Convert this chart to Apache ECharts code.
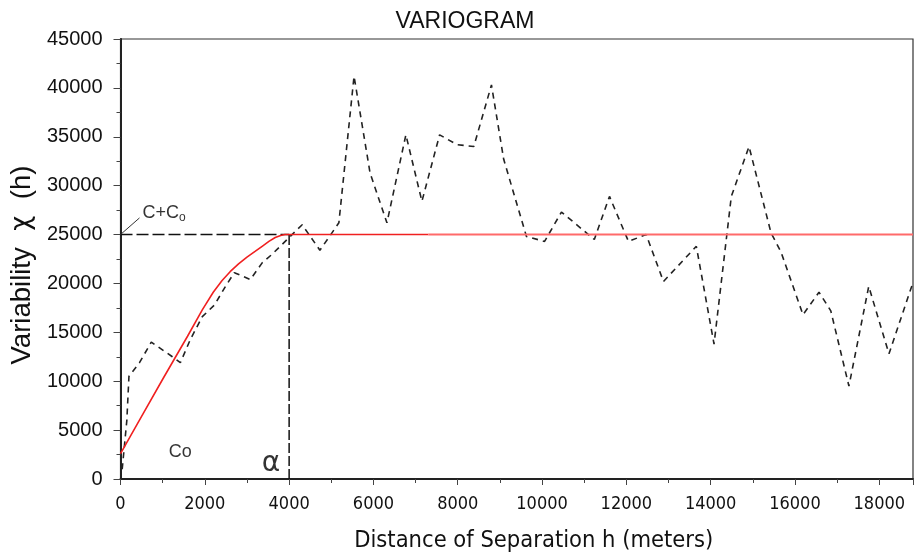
<!DOCTYPE html>
<html>
<head>
<meta charset="utf-8">
<title>Variogram</title>
<script src="https://cdn.jsdelivr.net/npm/echarts@6/dist/echarts.min.js"></script>
<style>
  html, body { margin: 0; padding: 0; background: #fff; }
  #chart { width: 916px; height: 558px; }
</style>
</head>
<body>
<div id="chart"></div>
<script>
// Variograma experimental (línea discontinua)
const varioH = [40, 150, 200, 450, 730, 1230, 1420, 1660, 1940, 2230, 2490, 2700, 3080, 3360, 3600, 4000,
  4310, 4730, 5020, 5180, 5540, 5920, 6320, 6770, 7150, 7570, 7980, 8380, 8800, 9090, 9630, 10060,
  10460, 11100, 11240, 11600, 12050, 12470, 12880, 13660, 14080, 14490, 14910, 15430, 15670, 16190,
  16570, 16850, 17280, 17750, 18230, 18800];
const varioGamma = [1000, 6000, 10500, 11900, 14000, 12500, 11900, 14300, 16600, 17800, 19700, 21100, 20400, 22100, 23000, 24700,
  26000, 23400, 25200, 26200, 41200, 31300, 26200, 35200, 28400, 35200, 34200, 34000, 40300, 32700, 24800, 24300,
  27300, 25000, 24500, 28900, 24300, 25000, 20200, 23800, 13800, 28900, 34000, 25200, 23200, 16800,
  19100, 17200, 9500, 19700, 12800, 20100];

// Modelo ajustado (línea roja)
const modelH = [0, 500, 1000, 1590, 1940, 2200, 2410, 2600, 2800, 3000, 3200, 3360, 3520, 3670, 3800, 3900, 7300];
const modelGamma = [2600, 6400, 10200, 14600, 17300, 19100, 20300, 21200, 22000, 22700, 23300, 23800, 24300, 24700, 24900, 25000, 25000];
const modelTailH = [7300, 18800];
const modelTailGamma = [25000, 25000];

// Meseta (C+Co) y alcance (α)
const sillH = [0, 4000];
const sillGamma = [25000, 25000];
const rangeH = [4000, 4000];
const rangeGamma = [0, 25000];
const leaderH = [0, 450];
const leaderGamma = [25000, 26700];

// Etiquetas de anotación
const notes = [
  { h: 400, gamma: 27200, text: '{a|C+C}{b|o}', pos: 'right' },
  { h: 1420, gamma: 2750, text: '{a|Co}', pos: 'inside' },
  { h: 3570, gamma: 1600, text: '{c|α}', pos: 'inside' }
];

const xTicks = { min: 0, max: 18800, interval: 2000 };
const yTicks = { min: 0, max: 45000, interval: 5000 };

const zip = (a, b) => a.map((v, i) => [v, b[i]]);

const noteRich = {
  a: { fontFamily: 'Liberation Sans', fontSize: 18, color: '#000' },
  b: { fontFamily: 'Liberation Sans', fontSize: 12, color: '#000', padding: [9, 0, 0, 0] },
  c: { fontFamily: 'DejaVu Sans', fontSize: 28, color: '#000' }
};

const chart = echarts.init(document.getElementById('chart'));

const option = {
  animation: false,
  backgroundColor: '#fff',
  title: {
    text: 'VARIOGRAM',
    left: 460,
    textAlign: 'center',
    top: 5,
    textStyle: { fontFamily: 'Liberation Sans', fontSize: 23, fontWeight: 'normal', color: '#111' }
  },
  grid: {
    left: 118, right: 3, top: 39, bottom: 78,
    show: true, borderColor: '#333', borderWidth: 1.2
  },
  xAxis: {
    type: 'value',
    min: xTicks.min, max: xTicks.max, interval: xTicks.interval,
    name: 'Distance of Separation h (meters)',
    nameLocation: 'middle',
    nameGap: 50,
    nameTextStyle: { fontFamily: 'DejaVu Sans Condensed', fontSize: 23.5, color: '#111', padding: [0, 0, 0, 34] },
    axisLine: { lineStyle: { color: '#222', width: 2 } },
    axisTick: { inside: false, length: 6, lineStyle: { color: '#444' } },
    minorTick: { show: true, splitNumber: 2, length: 4, lineStyle: { color: '#444' } },
    axisLabel: {
      showMaxLabel: false, margin: 16,
      formatter: v => String(v),
      fontFamily: 'DejaVu Sans Condensed', fontSize: 18, color: '#111'
    },
    splitLine: { show: false }
  },
  yAxis: {
    type: 'value',
    min: yTicks.min, max: yTicks.max, interval: yTicks.interval,
    name: '{a|Variability}{x|  χ  }{a|(h)}',
    nameLocation: 'middle',
    nameGap: 84,
    nameTextStyle: {
      padding: [0, 12, 0, 0],
      rich: {
        a: { fontFamily: 'Liberation Sans', fontSize: 27.5, color: '#111' },
        x: { fontFamily: 'DejaVu Sans', fontSize: 26, color: '#111' }
      }
    },
    axisLine: { show: true, lineStyle: { color: '#222', width: 2 } },
    axisTick: { show: true, length: 7, lineStyle: { color: '#444' } },
    minorTick: { show: true, splitNumber: 2, length: 4, lineStyle: { color: '#444' } },
    axisLabel: {
      margin: 18,
      formatter: v => String(v),
      fontFamily: 'Liberation Sans', fontSize: 20, color: '#111'
    },
    splitLine: { show: false }
  },
  series: [
    {
      type: 'line', data: zip(sillH, sillGamma), symbol: 'none', silent: true,
      lineStyle: { color: '#111', width: 1.5, type: [12, 4] }
    },
    {
      type: 'line', data: zip(rangeH, rangeGamma), symbol: 'none', silent: true,
      lineStyle: { color: '#111', width: 1.5, type: [10, 3] }
    },
    {
      type: 'line', data: zip(leaderH, leaderGamma), symbol: 'none', silent: true,
      lineStyle: { color: '#333', width: 1 }
    },
    {
      name: 'Experimental', type: 'line', data: zip(varioH, varioGamma), symbol: 'none',
      lineStyle: { color: '#222', width: 1.6, type: [6, 5] }
    },
    {
      name: 'Modelo', type: 'line', data: zip(modelH, modelGamma), symbol: 'none',
      lineStyle: { color: '#f02020', width: 1.6 }
    },
    {
      type: 'line', data: zip(modelTailH, modelTailGamma), symbol: 'none',
      lineStyle: { color: '#ff6a6a', width: 2 }
    },
    {
      type: 'scatter', symbolSize: 0, silent: true,
      itemStyle: { color: '#000' },
      data: notes.map(n => ({
        value: [n.h, n.gamma],
        label: { show: true, position: n.pos, color: '#000', formatter: n.text, rich: noteRich }
      }))
    }
  ]
};

chart.setOption(option);
</script>
</body>
</html>
